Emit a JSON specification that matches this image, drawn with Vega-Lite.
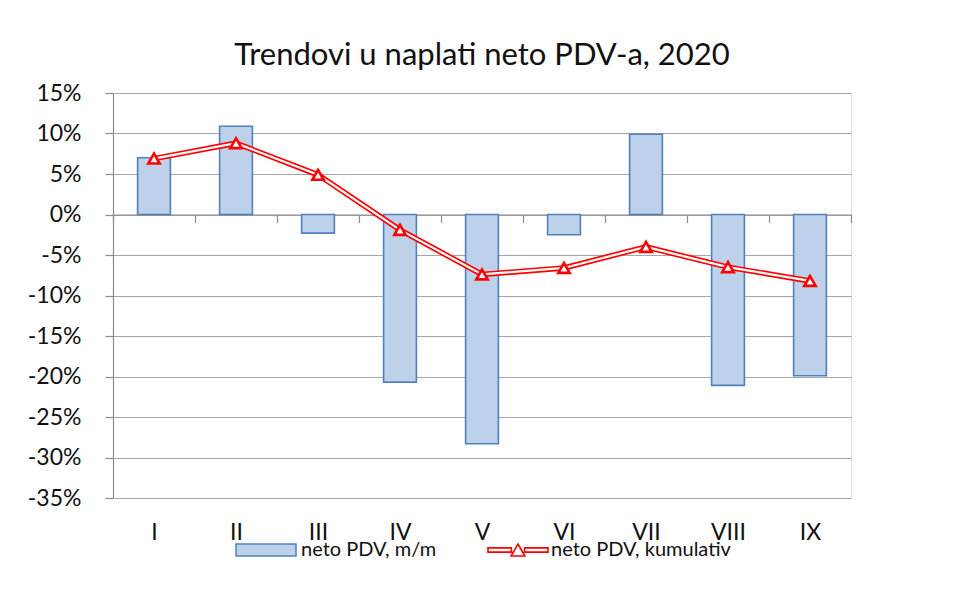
{
  "$schema": "https://vega.github.io/schema/vega-lite/v6.json",
  "width": 738,
  "height": 405,
  "autosize": {"type": "none"},
  "padding": {"left": 113, "top": 93, "right": 113, "bottom": 91},
  "background": "white",
  "title": {"text": "Trendovi u naplati neto PDV-a, 2020", "font": "Lato", "fontSize": 31, "fontWeight": "normal", "color": "#111111", "offset": 10, "anchor": "middle"},
  "data": {"values": [
    {"mjesec": "I", "mm": 7.0, "kum": 6.9},
    {"mjesec": "II", "mm": 10.9, "kum": 8.8},
    {"mjesec": "III", "mm": -2.3, "kum": 4.9},
    {"mjesec": "IV", "mm": -20.7, "kum": -1.9},
    {"mjesec": "V", "mm": -28.3, "kum": -7.4},
    {"mjesec": "VI", "mm": -2.5, "kum": -6.6},
    {"mjesec": "VII", "mm": 9.9, "kum": -4.0},
    {"mjesec": "VIII", "mm": -21.1, "kum": -6.5},
    {"mjesec": "IX", "mm": -19.9, "kum": -8.2}
  ]},
  "encoding": {
    "x": {
      "field": "mjesec", "type": "nominal", "sort": null, "title": null,
      "scale": {"paddingInner": 0, "paddingOuter": 0},
      "axis": {"orient": "bottom", "offset": -283.5, "tickBand": "extent", "tickSize": 8, "labelAngle": 0, "labelPadding": 299, "labelFont": "Lato", "labelFontSize": 23, "labelColor": "#111111", "domainColor": "#8c8c8c", "tickColor": "#8c8c8c", "domainWidth": 1.2, "tickWidth": 1.2, "grid": false}
    }
  },
  "layer": [
    {
      "mark": {"type": "bar", "width": {"band": 0.4}, "stroke": "#4f81bd", "strokeWidth": 1.6},
      "encoding": {
        "y": {"field": "mm", "type": "quantitative", "title": null,
          "scale": {"domain": [-35, 15], "nice": false, "zero": false},
          "axis": {"values": [15, 10, 5, 0, -5, -10, -15, -20, -25, -30, -35], "labelExpr": "datum.value + '%'", "grid": true, "gridColor": "#a6a6a6", "gridWidth": 1.2, "domainColor": "#8c8c8c", "domainWidth": 1.2, "tickColor": "#8c8c8c", "tickWidth": 1.2, "tickSize": 8, "labelPadding": 24, "labelFont": "Lato", "labelFontSize": 23, "labelColor": "#111111"}
        },
        "fill": {"datum": "neto PDV, m/m", "scale": {"range": ["#bdd1eb"]},
          "legend": {"orient": "none", "legendX": 122, "legendY": 426, "title": null, "symbolType": "M-1,-0.2H1V0.2H-1Z", "symbolSize": 3600, "symbolStrokeColor": "#4f81bd", "symbolStrokeWidth": 1.5, "labelFont": "Lato", "labelFontSize": 20, "labelColor": "#111111", "labelOffset": 4, "labelLimit": 400}
        }
      }
    },
    {
      "mark": {"type": "line", "strokeWidth": 5.5},
      "encoding": {
        "y": {"field": "kum", "type": "quantitative", "title": null},
        "stroke": {"datum": "neto PDV, kumulativ", "scale": {"range": ["#ff0000"]},
          "legend": {"orient": "none", "legendX": 374, "legendY": 426, "title": null, "symbolType": "M-1,-0.07H-0.22V0.07H-1Z M0.22,-0.07H1V0.07H0.22Z M-0.23,0.2L0,-0.2L0.23,0.2Z", "symbolSize": 3600, "symbolStrokeColor": "#ff0000", "symbolStrokeWidth": 1.6, "symbolFillColor": "white", "labelFont": "Lato", "labelFontSize": 20, "labelColor": "#111111", "labelOffset": 2, "labelLimit": 400,
            "encode": {"symbols": {"update": {"strokeWidth": {"value": 1.6}, "fill": {"value": "white"}, "fillOpacity": {"value": 1}}}}}
        }
      }
    },
    {
      "mark": {"type": "line", "strokeWidth": 2.2, "color": "white"},
      "encoding": {"y": {"field": "kum", "type": "quantitative", "title": null}}
    },
    {
      "mark": {"type": "point", "shape": "triangle-up", "size": 130, "filled": true, "fill": "white", "stroke": "#ff0000", "strokeWidth": 2.6, "opacity": 1},
      "encoding": {"y": {"field": "kum", "type": "quantitative", "title": null}}
    }
  ]
}
